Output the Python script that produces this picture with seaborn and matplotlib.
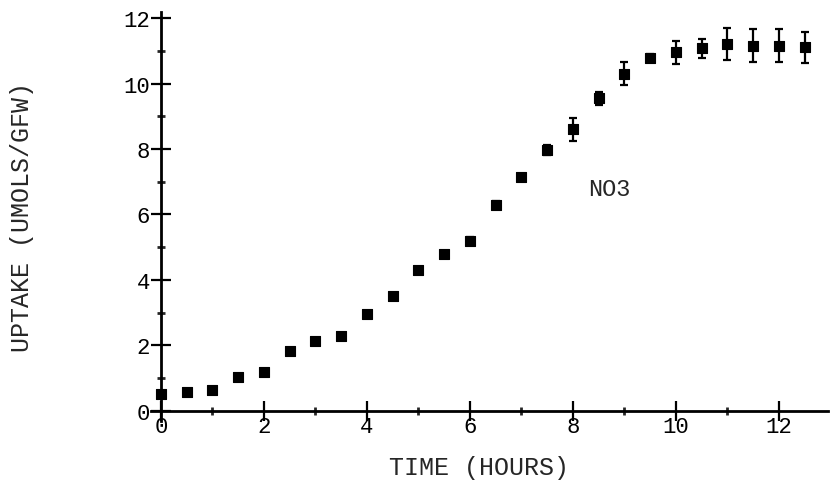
import matplotlib
matplotlib.use("Agg")
import matplotlib.pyplot as plt
from matplotlib.ticker import MultipleLocator
import seaborn as sns
import pandas as pd

# Nitrate uptake time course
hours = [0.0, 0.5, 1.0, 1.5, 2.0, 2.5, 3.0, 3.5, 4.0, 4.5, 5.0, 5.5, 6.0,
         6.5, 7.0, 7.5, 8.0, 8.5, 9.0, 9.5, 10.0, 10.5, 11.0, 11.5, 12.0, 12.5]
uptake = [0.51, 0.58, 0.64, 1.02, 1.17, 1.83, 2.14, 2.27, 2.96, 3.51, 4.30,
          4.79, 5.20, 6.30, 7.15, 7.96, 8.61, 9.55, 10.30, 10.80, 10.96,
          11.08, 11.21, 11.16, 11.16, 11.11]
uptake_err = [0.0, 0.0, 0.0, 0.0, 0.0, 0.0, 0.0, 0.0, 0.0, 0.0, 0.1, 0.1,
              0.1, 0.1, 0.1, 0.15, 0.35, 0.2, 0.35, 0.1, 0.35, 0.28, 0.5,
              0.5, 0.5, 0.48]
x_ticks = [0, 2, 4, 6, 8, 10, 12]
y_ticks = [0, 2, 4, 6, 8, 10, 12]

df = pd.DataFrame({"hours": hours, "uptake": uptake, "err": uptake_err})

sns.set_style("white")
plt.rcParams["font.family"] = ["Liberation Mono", "DejaVu Sans Mono"]

fig = plt.figure(figsize=(8.31, 4.89), dpi=100)
ax = fig.add_axes([0.1813, 0.138, 0.815, 0.836])

ax.errorbar(df["hours"], df["uptake"], yerr=df["err"], fmt="none",
            ecolor="black", elinewidth=1.6, capsize=3, capthick=1.6, zorder=2)
sns.scatterplot(data=df, x="hours", y="uptake", ax=ax, marker="s", s=50,
                color="black", edgecolor="black", linewidth=0.8, zorder=3)

ax.set_xlim(-0.2, 12.95)
ax.set_ylim(-0.3, 12.2)

for side in ("top", "right"):
    ax.spines[side].set_visible(False)
ax.spines["left"].set_position(("data", 0))
ax.spines["bottom"].set_position(("data", 0))
for side in ("left", "bottom"):
    ax.spines[side].set_linewidth(2.0)
    ax.spines[side].set_color("black")

ax.xaxis.set_major_locator(MultipleLocator(2))
ax.xaxis.set_minor_locator(MultipleLocator(1))
ax.yaxis.set_major_locator(MultipleLocator(2))
ax.yaxis.set_minor_locator(MultipleLocator(1))
ax.set_xticks(x_ticks)
ax.set_yticks(y_ticks)
ax.tick_params(which="both", bottom=True, left=True)
ax.tick_params(which="major", direction="inout", length=14, width=1.6,
               labelsize=16, colors="black")
ax.tick_params(which="minor", direction="inout", length=6, width=2.0)
ax.tick_params(axis="y", which="major", pad=1)
ax.tick_params(axis="x", which="major", pad=-3)

ax.set_xlabel("TIME (HOURS)", fontsize=18, labelpad=0)
ax.set_ylabel("UPTAKE (UMOLS/GFW)", fontsize=18)
ax.xaxis.set_label_coords(0.485, -0.085)
ax.yaxis.set_label_coords(-0.172, 0.5)

ax.text(8.3, 6.8, "NO3", fontsize=17, ha="left", va="center")

fig.savefig("out.png", dpi=100)
